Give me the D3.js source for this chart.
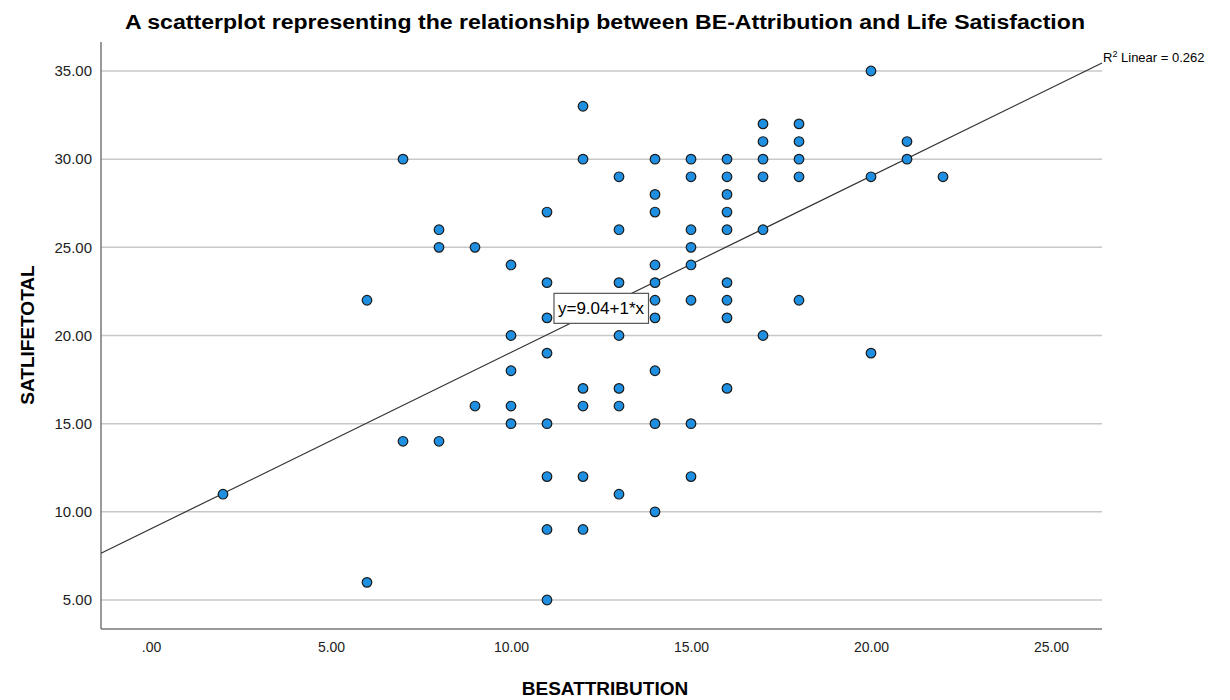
<!DOCTYPE html>
<html>
<head>
<meta charset="utf-8">
<script src="https://cdn.jsdelivr.net/npm/d3@7"></script>
<style>
  body { margin: 0; background: #fff; }
  text { font-family: "Liberation Sans", Arial, sans-serif; }
</style>
</head>
<body>
<div id="chart"></div>
<script>
// BESATTRIBUTION (x) and SATLIFETOTAL (y)
var besAttribution = [2, 6, 6, 7, 7, 8, 8, 8, 9, 9,
  10, 10, 10, 10, 10,
  11, 11, 11, 11, 11, 11, 11, 11,
  12, 12, 12, 12, 12, 12,
  13, 13, 13, 13, 13, 13, 13,
  14, 14, 14, 14, 14, 14, 14, 14, 14, 14,
  15, 15, 15, 15, 15, 15, 15, 15,
  16, 16, 16, 16, 16, 16, 16, 16, 16,
  17, 17, 17, 17, 17, 17,
  18, 18, 18, 18, 18,
  20, 20, 20, 21, 21, 22];
var satLifeTotal = [11, 22, 6, 30, 14, 26, 25, 14, 25, 16,
  24, 20, 18, 16, 15,
  27, 23, 21, 19, 15, 12, 9, 5,
  33, 30, 17, 16, 12, 9,
  29, 26, 23, 20, 17, 16, 11,
  30, 28, 27, 24, 23, 22, 21, 18, 15, 10,
  30, 29, 26, 25, 24, 22, 15, 12,
  30, 29, 28, 27, 26, 23, 22, 21, 17,
  32, 31, 30, 29, 26, 20,
  32, 31, 30, 29, 22,
  35, 29, 19, 31, 30, 29];

var xTicks = [0, 5, 10, 15, 20, 25];
var yTicks = [5, 10, 15, 20, 25, 30, 35];
var fitIntercept = 9.04;
var fitSlope = 1;
var rSquared = 0.262;
var fitLabelAt = 12.5;

var width = 1230, height = 700;
var plotLeft = 101, plotRight = 1102, plotTop = 42, plotBottom = 629;

var x = d3.scaleLinear().domain([0, 25]).range([151, 1051]);
var y = d3.scaleLinear().domain([5, 35]).range([600, 71]);
var xMin = x.invert(plotLeft), xMax = x.invert(plotRight);

var svg = d3.select("#chart").append("svg")
  .attr("width", width)
  .attr("height", height);

// title
svg.append("text")
  .attr("x", 605)
  .attr("y", 29)
  .attr("text-anchor", "middle")
  .attr("textLength", 960)
  .attr("lengthAdjust", "spacingAndGlyphs")
  .style("font-size", "20px")
  .style("font-weight", "bold")
  .text("A scatterplot representing the relationship between BE-Attribution and Life Satisfaction");

// horizontal grid lines
svg.append("g")
  .selectAll("line")
  .data(yTicks)
  .enter().append("line")
  .attr("x1", plotLeft)
  .attr("x2", plotRight)
  .attr("y1", d => y(d))
  .attr("y2", d => y(d))
  .attr("stroke", "#c8c8c8")
  .attr("stroke-width", 1.5);

// axes
var yAxis = svg.append("g")
  .attr("transform", "translate(" + plotLeft + ",0)")
  .call(d3.axisLeft(y).tickValues(yTicks).tickSize(0).tickPadding(9)
    .tickFormat(d3.format(".2f")));
yAxis.select(".domain").remove();
yAxis.selectAll("text").style("font-size", "15px").attr("fill", "#222");

var xAxis = svg.append("g")
  .attr("transform", "translate(0," + plotBottom + ")")
  .call(d3.axisBottom(x).tickValues(xTicks).tickSize(0).tickPadding(13)
    .tickFormat(d => d === 0 ? ".00" : d3.format(".2f")(d)));
xAxis.select(".domain").remove();
xAxis.selectAll("text").style("font-size", "14px").attr("fill", "#222");

svg.append("line")
  .attr("x1", plotLeft).attr("x2", plotLeft)
  .attr("y1", plotTop).attr("y2", plotBottom)
  .attr("stroke", "#777").attr("stroke-width", 1.5);
svg.append("line")
  .attr("x1", plotLeft).attr("x2", plotRight)
  .attr("y1", plotBottom).attr("y2", plotBottom)
  .attr("stroke", "#777").attr("stroke-width", 1.5);

// axis titles
svg.append("text")
  .attr("x", 605)
  .attr("y", 695)
  .attr("text-anchor", "middle")
  .style("font-size", "19px")
  .style("font-weight", "bold")
  .text("BESATTRIBUTION");

svg.append("text")
  .attr("transform", "translate(34,335) rotate(-90)")
  .attr("text-anchor", "middle")
  .style("font-size", "19px")
  .style("font-weight", "bold")
  .text("SATLIFETOTAL");

// fit line
var fit = d => fitIntercept + fitSlope * d;
svg.append("line")
  .attr("x1", x(xMin)).attr("y1", y(fit(xMin)))
  .attr("x2", x(xMax)).attr("y2", y(fit(xMax)))
  .attr("stroke", "#333")
  .attr("stroke-width", 1.2);

// points
var points = besAttribution.map((d, i) => [d, satLifeTotal[i]]);
svg.append("g")
  .selectAll("circle")
  .data(points)
  .enter().append("circle")
  .attr("cx", d => x(d[0]))
  .attr("cy", d => y(d[1]))
  .attr("r", 4.8)
  .attr("fill", "#1e8fe1")
  .attr("stroke", "#1a1a1a")
  .attr("stroke-width", 1.2);

// fit equation label
var lx = x(fitLabelAt), ly = y(fit(fitLabelAt));
var lab = svg.append("g");
var lt = lab.append("text")
  .attr("x", lx)
  .attr("y", ly + 6)
  .attr("text-anchor", "middle")
  .style("font-size", "17px")
  .text("y=" + fitIntercept.toFixed(2) + "+" + fitSlope + "*x");
var bb = lt.node().getBBox();
lab.insert("rect", "text")
  .attr("x", bb.x - 4)
  .attr("y", ly - 15)
  .attr("width", bb.width + 8)
  .attr("height", 30)
  .attr("fill", "#fff")
  .attr("stroke", "#555")
  .attr("stroke-width", 1.2);

// R squared label
var r2 = svg.append("text")
  .attr("x", plotRight + 1)
  .attr("y", 62)
  .style("font-size", "13px");
r2.append("tspan").text("R");
r2.append("tspan").attr("dy", -5).style("font-size", "9px").text("2");
r2.append("tspan").attr("dy", 5).text(" Linear = " + rSquared.toFixed(3));
</script>
</body>
</html>
